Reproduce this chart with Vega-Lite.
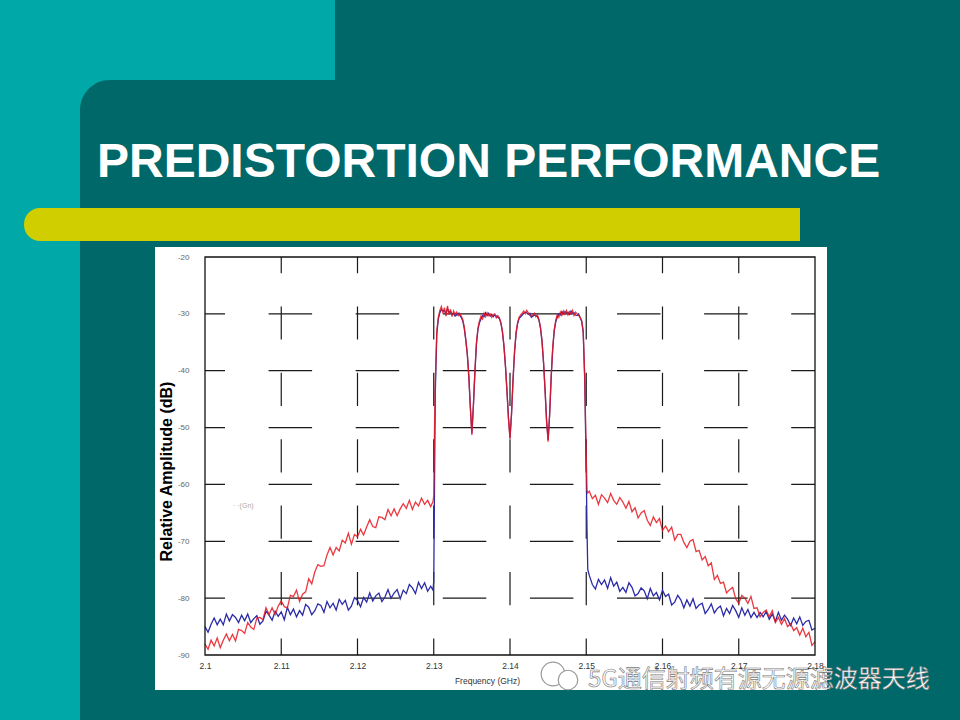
{
  "$schema": "https://vega.github.io/schema/vega-lite/v6.json",
  "autosize": "none",
  "width": 610,
  "height": 398,
  "padding": {"left": 205, "top": 257, "right": 145, "bottom": 65},
  "background": "#00A8A8",
  "config": {"view": {"stroke": null}, "font": "Liberation Sans"},
  "datasets": {
    "gridX": [{"f": 2.11}, {"f": 2.12}, {"f": 2.13}, {"f": 2.14}, {"f": 2.15}, {"f": 2.16}, {"f": 2.17}],
    "gridY": [{"db": -30}, {"db": -40}, {"db": -50}, {"db": -60}, {"db": -70}, {"db": -80}],
    "spectrum": [
      {"f": 2.1000, "red": -88.1, "blue": -85.0},
      {"f": 2.1004, "red": -89.0, "blue": -86.0},
      {"f": 2.1008, "red": -87.4, "blue": -84.6},
      {"f": 2.1012, "red": -88.4, "blue": -83.5},
      {"f": 2.1016, "red": -87.0, "blue": -84.7},
      {"f": 2.1020, "red": -88.7, "blue": -83.7},
      {"f": 2.1024, "red": -87.4, "blue": -84.7},
      {"f": 2.1028, "red": -86.3, "blue": -82.8},
      {"f": 2.1032, "red": -87.5, "blue": -84.0},
      {"f": 2.1036, "red": -86.4, "blue": -82.9},
      {"f": 2.1040, "red": -87.5, "blue": -83.4},
      {"f": 2.1044, "red": -85.5, "blue": -84.3},
      {"f": 2.1048, "red": -85.7, "blue": -83.0},
      {"f": 2.1052, "red": -86.2, "blue": -84.0},
      {"f": 2.1056, "red": -84.3, "blue": -82.8},
      {"f": 2.1060, "red": -85.1, "blue": -84.3},
      {"f": 2.1064, "red": -85.5, "blue": -83.6},
      {"f": 2.1068, "red": -83.5, "blue": -83.1},
      {"f": 2.1072, "red": -83.4, "blue": -84.6},
      {"f": 2.1076, "red": -83.8, "blue": -84.0},
      {"f": 2.1080, "red": -81.7, "blue": -82.3},
      {"f": 2.1084, "red": -82.9, "blue": -83.0},
      {"f": 2.1088, "red": -81.7, "blue": -83.9},
      {"f": 2.1092, "red": -82.9, "blue": -82.3},
      {"f": 2.1096, "red": -81.4, "blue": -83.2},
      {"f": 2.1100, "red": -80.5, "blue": -82.4},
      {"f": 2.1104, "red": -81.5, "blue": -83.8},
      {"f": 2.1108, "red": -81.7, "blue": -81.6},
      {"f": 2.1112, "red": -79.5, "blue": -82.9},
      {"f": 2.1116, "red": -79.7, "blue": -81.9},
      {"f": 2.1120, "red": -78.6, "blue": -83.3},
      {"f": 2.1124, "red": -80.6, "blue": -82.2},
      {"f": 2.1128, "red": -79.3, "blue": -83.0},
      {"f": 2.1132, "red": -78.9, "blue": -81.1},
      {"f": 2.1136, "red": -76.6, "blue": -81.6},
      {"f": 2.1140, "red": -77.5, "blue": -82.9},
      {"f": 2.1144, "red": -75.4, "blue": -82.2},
      {"f": 2.1148, "red": -74.1, "blue": -81.0},
      {"f": 2.1152, "red": -74.4, "blue": -81.3},
      {"f": 2.1156, "red": -74.3, "blue": -82.5},
      {"f": 2.1160, "red": -72.4, "blue": -80.6},
      {"f": 2.1164, "red": -71.1, "blue": -81.7},
      {"f": 2.1168, "red": -72.4, "blue": -80.9},
      {"f": 2.1172, "red": -71.1, "blue": -82.1},
      {"f": 2.1176, "red": -71.7, "blue": -80.2},
      {"f": 2.1180, "red": -69.8, "blue": -81.1},
      {"f": 2.1184, "red": -70.3, "blue": -80.4},
      {"f": 2.1188, "red": -68.6, "blue": -82.1},
      {"f": 2.1192, "red": -70.5, "blue": -81.4},
      {"f": 2.1196, "red": -68.8, "blue": -79.9},
      {"f": 2.1200, "red": -69.2, "blue": -80.4},
      {"f": 2.1204, "red": -67.9, "blue": -81.5},
      {"f": 2.1208, "red": -68.9, "blue": -79.9},
      {"f": 2.1212, "red": -67.5, "blue": -80.7},
      {"f": 2.1216, "red": -66.2, "blue": -79.1},
      {"f": 2.1220, "red": -67.4, "blue": -80.5},
      {"f": 2.1224, "red": -67.6, "blue": -79.6},
      {"f": 2.1228, "red": -65.7, "blue": -79.1},
      {"f": 2.1232, "red": -65.8, "blue": -80.6},
      {"f": 2.1236, "red": -66.2, "blue": -79.8},
      {"f": 2.1240, "red": -64.4, "blue": -78.5},
      {"f": 2.1244, "red": -65.5, "blue": -80.0},
      {"f": 2.1248, "red": -64.3, "blue": -79.1},
      {"f": 2.1252, "red": -65.5, "blue": -78.5},
      {"f": 2.1256, "red": -64.3, "blue": -80.1},
      {"f": 2.1260, "red": -63.4, "blue": -78.6},
      {"f": 2.1264, "red": -64.2, "blue": -79.2},
      {"f": 2.1268, "red": -62.8, "blue": -77.6},
      {"f": 2.1272, "red": -64.4, "blue": -78.2},
      {"f": 2.1276, "red": -63.1, "blue": -79.2},
      {"f": 2.1280, "red": -63.8, "blue": -77.2},
      {"f": 2.1284, "red": -62.4, "blue": -78.3},
      {"f": 2.1288, "red": -63.5, "blue": -77.3},
      {"f": 2.1292, "red": -62.8, "blue": -78.8},
      {"f": 2.1296, "red": -63.9, "blue": -77.9},
      {"f": 2.1299, "red": -63.0, "blue": -78.6},
      {"f": 2.1300, "red": -62.0, "blue": -77.0},
      {"f": 2.1301, "red": -50.0, "blue": -60.0},
      {"f": 2.1302, "red": -42.0, "blue": -44.0},
      {"f": 2.1304, "red": -33.0, "blue": -33.5},
      {"f": 2.1306, "red": -30.6, "blue": -30.9},
      {"f": 2.1308, "red": -29.4, "blue": -29.8},
      {"f": 2.1310, "red": -28.7, "blue": -29.2},
      {"f": 2.1312, "red": -29.9, "blue": -29.5},
      {"f": 2.1314, "red": -28.9, "blue": -29.4},
      {"f": 2.1316, "red": -30.4, "blue": -30.0},
      {"f": 2.1318, "red": -28.6, "blue": -29.1},
      {"f": 2.1320, "red": -30.1, "blue": -29.7},
      {"f": 2.1322, "red": -29.2, "blue": -29.6},
      {"f": 2.1324, "red": -30.5, "blue": -30.1},
      {"f": 2.1326, "red": -29.5, "blue": -29.9},
      {"f": 2.1328, "red": -30.1, "blue": -30.4},
      {"f": 2.1330, "red": -29.7, "blue": -30.2},
      {"f": 2.1332, "red": -30.3, "blue": -29.9},
      {"f": 2.1334, "red": -29.9, "blue": -30.2},
      {"f": 2.1336, "red": -30.4, "blue": -30.6},
      {"f": 2.1338, "red": -31.0, "blue": -31.2},
      {"f": 2.1340, "red": -32.3, "blue": -32.5},
      {"f": 2.1342, "red": -34.5, "blue": -34.6},
      {"f": 2.1344, "red": -37.0, "blue": -37.1},
      {"f": 2.1346, "red": -41.0, "blue": -41.0},
      {"f": 2.1348, "red": -46.5, "blue": -46.4},
      {"f": 2.1350, "red": -51.3, "blue": -51.0},
      {"f": 2.1352, "red": -46.0, "blue": -46.2},
      {"f": 2.1354, "red": -40.0, "blue": -40.2},
      {"f": 2.1356, "red": -35.0, "blue": -35.3},
      {"f": 2.1358, "red": -32.5, "blue": -32.7},
      {"f": 2.1360, "red": -31.2, "blue": -31.5},
      {"f": 2.1362, "red": -30.4, "blue": -30.9},
      {"f": 2.1364, "red": -30.9, "blue": -30.3},
      {"f": 2.1366, "red": -29.9, "blue": -30.5},
      {"f": 2.1368, "red": -30.5, "blue": -29.8},
      {"f": 2.1370, "red": -29.8, "blue": -30.3},
      {"f": 2.1372, "red": -30.3, "blue": -29.9},
      {"f": 2.1374, "red": -30.0, "blue": -30.4},
      {"f": 2.1376, "red": -30.6, "blue": -30.1},
      {"f": 2.1378, "red": -30.1, "blue": -30.5},
      {"f": 2.1380, "red": -30.0, "blue": -30.2},
      {"f": 2.1382, "red": -30.7, "blue": -30.4},
      {"f": 2.1384, "red": -30.3, "blue": -30.6},
      {"f": 2.1386, "red": -30.7, "blue": -30.8},
      {"f": 2.1388, "red": -31.5, "blue": -31.6},
      {"f": 2.1390, "red": -33.0, "blue": -33.1},
      {"f": 2.1392, "red": -35.5, "blue": -35.6},
      {"f": 2.1394, "red": -39.0, "blue": -39.1},
      {"f": 2.1396, "red": -43.5, "blue": -43.5},
      {"f": 2.1398, "red": -48.5, "blue": -48.3},
      {"f": 2.1400, "red": -52.0, "blue": -51.8},
      {"f": 2.1402, "red": -47.5, "blue": -47.6},
      {"f": 2.1404, "red": -41.5, "blue": -41.6},
      {"f": 2.1406, "red": -36.5, "blue": -36.7},
      {"f": 2.1408, "red": -33.3, "blue": -33.4},
      {"f": 2.1410, "red": -31.5, "blue": -31.7},
      {"f": 2.1412, "red": -30.6, "blue": -30.8},
      {"f": 2.1414, "red": -30.2, "blue": -30.5},
      {"f": 2.1416, "red": -29.9, "blue": -30.2},
      {"f": 2.1418, "red": -29.5, "blue": -29.9},
      {"f": 2.1420, "red": -30.0, "blue": -29.7},
      {"f": 2.1422, "red": -29.4, "blue": -29.8},
      {"f": 2.1424, "red": -29.8, "blue": -30.1},
      {"f": 2.1426, "red": -30.3, "blue": -29.9},
      {"f": 2.1428, "red": -30.4, "blue": -30.6},
      {"f": 2.1430, "red": -30.2, "blue": -30.4},
      {"f": 2.1432, "red": -29.9, "blue": -30.2},
      {"f": 2.1434, "red": -30.5, "blue": -30.3},
      {"f": 2.1436, "red": -30.2, "blue": -30.5},
      {"f": 2.1438, "red": -31.0, "blue": -31.1},
      {"f": 2.1440, "red": -32.4, "blue": -32.5},
      {"f": 2.1442, "red": -34.8, "blue": -34.9},
      {"f": 2.1444, "red": -38.5, "blue": -38.6},
      {"f": 2.1446, "red": -43.5, "blue": -43.4},
      {"f": 2.1448, "red": -49.0, "blue": -48.8},
      {"f": 2.1450, "red": -52.5, "blue": -52.2},
      {"f": 2.1452, "red": -47.5, "blue": -47.7},
      {"f": 2.1454, "red": -41.0, "blue": -41.2},
      {"f": 2.1456, "red": -36.0, "blue": -36.2},
      {"f": 2.1458, "red": -32.8, "blue": -33.0},
      {"f": 2.1460, "red": -31.1, "blue": -31.4},
      {"f": 2.1462, "red": -30.1, "blue": -30.6},
      {"f": 2.1464, "red": -30.6, "blue": -30.0},
      {"f": 2.1466, "red": -29.7, "blue": -30.2},
      {"f": 2.1468, "red": -30.3, "blue": -29.6},
      {"f": 2.1470, "red": -29.5, "blue": -30.0},
      {"f": 2.1472, "red": -30.1, "blue": -29.6},
      {"f": 2.1474, "red": -29.4, "blue": -29.9},
      {"f": 2.1476, "red": -30.2, "blue": -29.7},
      {"f": 2.1478, "red": -29.6, "blue": -30.1},
      {"f": 2.1480, "red": -30.0, "blue": -29.5},
      {"f": 2.1482, "red": -29.4, "blue": -29.9},
      {"f": 2.1484, "red": -30.3, "blue": -29.8},
      {"f": 2.1486, "red": -29.7, "blue": -30.2},
      {"f": 2.1488, "red": -30.0, "blue": -30.3},
      {"f": 2.1490, "red": -30.3, "blue": -30.0},
      {"f": 2.1492, "red": -30.6, "blue": -30.7},
      {"f": 2.1494, "red": -31.2, "blue": -31.3},
      {"f": 2.1496, "red": -33.0, "blue": -33.2},
      {"f": 2.1498, "red": -41.0, "blue": -41.5},
      {"f": 2.1500, "red": -55.0, "blue": -58.0},
      {"f": 2.1501, "red": -61.0, "blue": -68.0},
      {"f": 2.1502, "red": -61.5, "blue": -75.0},
      {"f": 2.1504, "red": -61.2, "blue": -76.0},
      {"f": 2.1508, "red": -62.5, "blue": -77.6},
      {"f": 2.1512, "red": -61.9, "blue": -78.4},
      {"f": 2.1516, "red": -63.5, "blue": -76.7},
      {"f": 2.1520, "red": -61.8, "blue": -77.6},
      {"f": 2.1524, "red": -62.4, "blue": -76.8},
      {"f": 2.1528, "red": -63.2, "blue": -78.3},
      {"f": 2.1532, "red": -61.6, "blue": -76.4},
      {"f": 2.1536, "red": -62.8, "blue": -77.9},
      {"f": 2.1540, "red": -63.5, "blue": -77.2},
      {"f": 2.1544, "red": -62.3, "blue": -78.8},
      {"f": 2.1548, "red": -63.1, "blue": -78.1},
      {"f": 2.1552, "red": -64.2, "blue": -79.0},
      {"f": 2.1556, "red": -63.0, "blue": -77.3},
      {"f": 2.1560, "red": -64.8, "blue": -78.1},
      {"f": 2.1564, "red": -64.1, "blue": -79.6},
      {"f": 2.1568, "red": -65.9, "blue": -79.2},
      {"f": 2.1572, "red": -65.0, "blue": -78.2},
      {"f": 2.1576, "red": -64.6, "blue": -78.7},
      {"f": 2.1580, "red": -66.3, "blue": -80.1},
      {"f": 2.1584, "red": -67.2, "blue": -78.3},
      {"f": 2.1588, "red": -65.7, "blue": -79.6},
      {"f": 2.1592, "red": -66.7, "blue": -79.0},
      {"f": 2.1596, "red": -66.0, "blue": -80.3},
      {"f": 2.1600, "red": -68.1, "blue": -78.6},
      {"f": 2.1604, "red": -67.3, "blue": -79.7},
      {"f": 2.1608, "red": -68.3, "blue": -79.3},
      {"f": 2.1612, "red": -67.5, "blue": -81.2},
      {"f": 2.1616, "red": -69.8, "blue": -80.7},
      {"f": 2.1620, "red": -68.8, "blue": -79.5},
      {"f": 2.1624, "red": -68.8, "blue": -80.3},
      {"f": 2.1628, "red": -70.2, "blue": -81.7},
      {"f": 2.1632, "red": -71.1, "blue": -80.3},
      {"f": 2.1636, "red": -70.0, "blue": -81.4},
      {"f": 2.1640, "red": -69.7, "blue": -80.1},
      {"f": 2.1644, "red": -71.8, "blue": -81.8},
      {"f": 2.1648, "red": -71.6, "blue": -81.2},
      {"f": 2.1652, "red": -73.3, "blue": -80.9},
      {"f": 2.1656, "red": -72.7, "blue": -82.7},
      {"f": 2.1660, "red": -74.3, "blue": -82.0},
      {"f": 2.1664, "red": -73.8, "blue": -81.0},
      {"f": 2.1668, "red": -76.7, "blue": -82.6},
      {"f": 2.1672, "red": -76.0, "blue": -81.8},
      {"f": 2.1676, "red": -77.4, "blue": -81.4},
      {"f": 2.1680, "red": -77.2, "blue": -83.1},
      {"f": 2.1684, "red": -79.1, "blue": -81.8},
      {"f": 2.1688, "red": -78.5, "blue": -82.7},
      {"f": 2.1692, "red": -78.1, "blue": -81.3},
      {"f": 2.1696, "red": -80.1, "blue": -82.2},
      {"f": 2.1700, "red": -80.9, "blue": -83.4},
      {"f": 2.1704, "red": -79.5, "blue": -81.7},
      {"f": 2.1708, "red": -80.0, "blue": -83.0},
      {"f": 2.1712, "red": -80.9, "blue": -82.0},
      {"f": 2.1716, "red": -79.7, "blue": -83.4},
      {"f": 2.1720, "red": -81.8, "blue": -82.5},
      {"f": 2.1724, "red": -81.7, "blue": -83.4},
      {"f": 2.1728, "red": -83.3, "blue": -82.5},
      {"f": 2.1732, "red": -82.5, "blue": -83.3},
      {"f": 2.1736, "red": -82.1, "blue": -82.4},
      {"f": 2.1740, "red": -83.3, "blue": -83.7},
      {"f": 2.1744, "red": -82.2, "blue": -82.8},
      {"f": 2.1748, "red": -84.3, "blue": -84.1},
      {"f": 2.1752, "red": -83.4, "blue": -82.5},
      {"f": 2.1756, "red": -84.6, "blue": -83.9},
      {"f": 2.1760, "red": -83.6, "blue": -83.0},
      {"f": 2.1764, "red": -85.0, "blue": -83.7},
      {"f": 2.1768, "red": -84.5, "blue": -84.8},
      {"f": 2.1772, "red": -85.7, "blue": -83.5},
      {"f": 2.1776, "red": -85.2, "blue": -84.5},
      {"f": 2.1780, "red": -86.5, "blue": -83.3},
      {"f": 2.1784, "red": -85.3, "blue": -84.8},
      {"f": 2.1788, "red": -86.8, "blue": -84.1},
      {"f": 2.1792, "red": -86.0, "blue": -83.9},
      {"f": 2.1796, "red": -88.3, "blue": -85.6},
      {"f": 2.1800, "red": -87.7, "blue": -85.3}
    ]
  },
  "layer": [
    {
      "data": {"values": [{}]},
      "layer": [
        {
          "mark": {"type": "rect", "color": "#006868"},
          "encoding": {
            "x": {"datum": 335, "type": "quantitative", "scale": {"domain": [205, 815], "zero": false, "nice": false}, "axis": null},
            "x2": {"datum": 960},
            "y": {"datum": 0, "type": "quantitative", "scale": {"domain": [257, 655], "zero": false, "nice": false, "reverse": true}, "axis": null},
            "y2": {"datum": 80}
          }
        },
        {
          "mark": {"type": "rect", "color": "#006868", "cornerRadiusTopLeft": 30},
          "encoding": {
            "x": {"datum": 80, "type": "quantitative"},
            "x2": {"datum": 960},
            "y": {"datum": 80, "type": "quantitative"},
            "y2": {"datum": 720}
          }
        },
        {
          "mark": {"type": "rect", "color": "#D1CE00", "cornerRadiusTopLeft": 16, "cornerRadiusBottomLeft": 16},
          "encoding": {
            "x": {"datum": 24, "type": "quantitative"},
            "x2": {"datum": 800},
            "y": {"datum": 208, "type": "quantitative"},
            "y2": {"datum": 241}
          }
        },
        {
          "mark": {"type": "rect", "color": "#FFFFFF"},
          "encoding": {
            "x": {"datum": 155, "type": "quantitative"},
            "x2": {"datum": 827},
            "y": {"datum": 247, "type": "quantitative"},
            "y2": {"datum": 690}
          }
        },
        {
          "mark": {"type": "text", "text": "PREDISTORTION PERFORMANCE", "align": "left", "baseline": "alphabetic", "font": "Liberation Sans", "fontSize": 48, "fontWeight": "bold", "color": "#FFFFFF"},
          "encoding": {
            "x": {"datum": 97, "type": "quantitative"},
            "y": {"datum": 177, "type": "quantitative"}
          }
        }
      ]
    },
    {
      "layer": [
        {
          "data": {"name": "gridY"},
          "mark": {"type": "rule", "color": "#1a1a1a", "strokeWidth": 1.2, "strokeDash": [43.5, 43.6], "strokeDashOffset": 23.5},
          "encoding": {
            "y": {"field": "db", "type": "quantitative"},
            "x": {"datum": 2.1},
            "x2": {"datum": 2.18}
          }
        },
        {
          "data": {"name": "gridX"},
          "mark": {"type": "rule", "color": "#1a1a1a", "strokeWidth": 1.2, "strokeDash": [33.2, 33.2], "strokeDashOffset": 16.6},
          "encoding": {
            "x": {"field": "f", "type": "quantitative"},
            "y": {"datum": -90},
            "y2": {"datum": -20}
          }
        },
        {
          "data": {"name": "spectrum"},
          "mark": {"type": "line", "color": "#2B2BA8", "strokeWidth": 1.3},
          "encoding": {
            "x": {
              "field": "f", "type": "quantitative",
              "scale": {"domain": [2.1, 2.18], "zero": false, "nice": false},
              "axis": {
                "orient": "bottom", "zindex": 2,
                "values": [2.1, 2.11, 2.12, 2.13, 2.14, 2.15, 2.16, 2.17, 2.18],
                "format": ".2~f", "grid": false, "ticks": false, "domain": false,
                "labelFontSize": 8.5, "labelColor": "#333333", "labelPadding": 6, "labelDx": -5,
                "labelFlush": false, "labelBound": false,
                "title": "Frequency (GHz)", "titleFontSize": 8.5, "titleFontWeight": "normal",
                "titleColor": "#333333", "titleX": 282, "titleY": 25, "titleBaseline": "middle"
              }
            },
            "y": {
              "field": "blue", "type": "quantitative",
              "scale": {"domain": [-90, -20], "zero": false, "nice": false},
              "axis": {
                "orient": "left", "zindex": 2,
                "values": [-90, -80, -70, -60, -50, -40, -30, -20],
                "labelExpr": "'' + datum.value", "grid": false, "ticks": false, "domain": false,
                "labelFontSize": 8, "labelColor": "#666666", "labelPadding": 16,
                "title": "Relative Amplitude (dB)", "titleFontSize": 16, "titleFontWeight": "bold",
                "titleColor": "#000000", "titleX": -39, "titleY": 214, "titleBaseline": "middle"
              }
            }
          }
        },
        {
          "data": {"name": "spectrum"},
          "mark": {"type": "line", "color": "#E8161E", "strokeWidth": 1.3, "opacity": 0.85},
          "encoding": {
            "x": {"field": "f", "type": "quantitative"},
            "y": {"field": "red", "type": "quantitative"}
          }
        },
        {
          "data": {"values": [{}]},
          "mark": {"type": "rect", "filled": false, "color": "#111111", "strokeWidth": 1.3},
          "encoding": {
            "x": {"datum": 2.1},
            "x2": {"datum": 2.18},
            "y": {"datum": -90},
            "y2": {"datum": -20}
          }
        }
      ]
    },
    {
      "data": {"values": [{}]},
      "layer": [
        {
          "mark": {"type": "text", "text": "· ·(Gn)", "align": "left", "baseline": "middle", "fontSize": 7, "color": "#AAAAAA"},
          "encoding": {
            "x": {"datum": 233, "type": "quantitative", "scale": {"domain": [205, 815], "zero": false, "nice": false}, "axis": null},
            "y": {"datum": 506, "type": "quantitative", "scale": {"domain": [257, 655], "zero": false, "nice": false, "reverse": true}, "axis": null}
          }
        },
        {
          "mark": {"type": "point", "shape": "circle", "size": 560, "filled": true, "fill": "#FFFFFF", "stroke": "#999999", "strokeWidth": 1.2, "opacity": 1},
          "encoding": {
            "x": {"datum": 553, "type": "quantitative"},
            "y": {"datum": 674, "type": "quantitative"}
          }
        },
        {
          "mark": {"type": "point", "shape": "circle", "size": 380, "filled": true, "fill": "#FFFFFF", "stroke": "#999999", "strokeWidth": 1.2, "opacity": 1},
          "encoding": {
            "x": {"datum": 568, "type": "quantitative"},
            "y": {"datum": 680, "type": "quantitative"}
          }
        },
        {
          "mark": {"type": "text", "text": "5G通信射频有源无源滤波器天线", "align": "left", "baseline": "alphabetic", "font": "Noto Sans CJK SC", "fontSize": 24, "fill": "#FFFFFF", "stroke": "#7A7A7A", "strokeWidth": 0.6},
          "encoding": {
            "x": {"datum": 588, "type": "quantitative"},
            "y": {"datum": 687, "type": "quantitative"}
          }
        }
      ]
    }
  ],
  "resolve": {"scale": {"x": "independent", "y": "independent"}}
}
